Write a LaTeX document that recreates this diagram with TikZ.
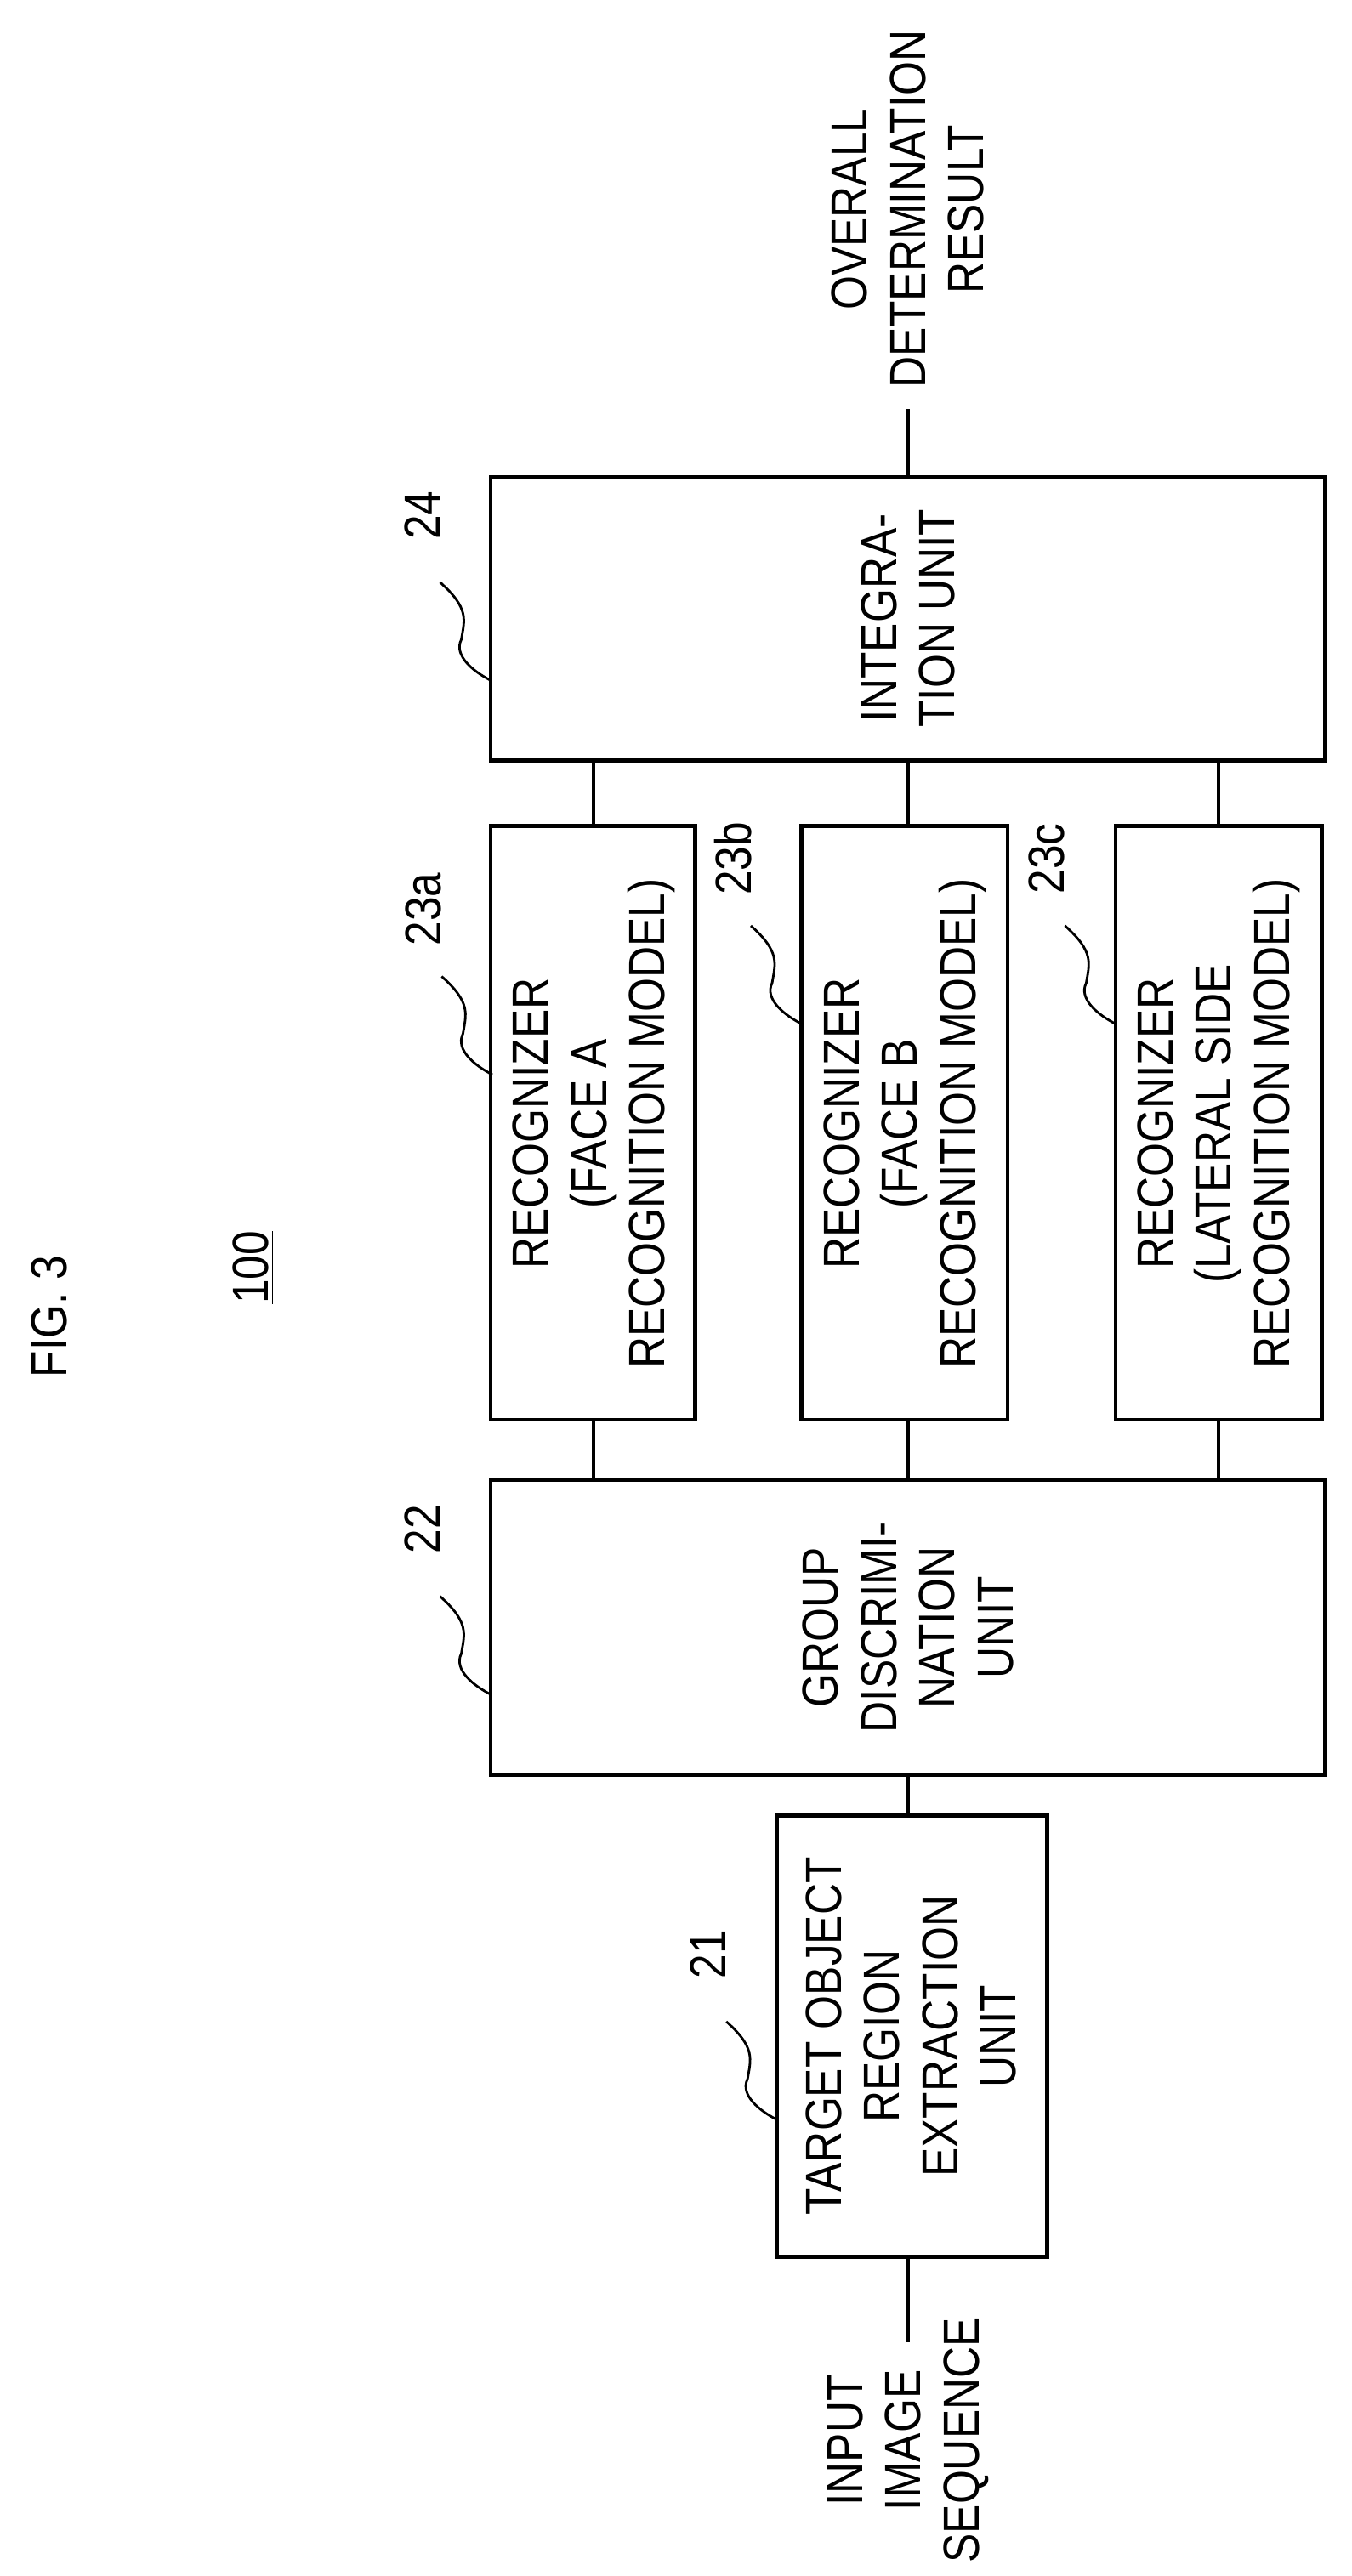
\documentclass[tikz,border=0pt]{standalone}
\usepackage{fontspec}
\setmainfont{Liberation Sans}[FakeStretch=0.86]
\begin{document}
\begin{tikzpicture}[x=0.01924cm,y=-0.01924cm,
  box/.style={draw,line width=1.3pt},
  txt/.style={rotate=90,align=center,font=\fontsize{17}{19.5}\selectfont},
  lbl/.style={rotate=90,font=\fontsize{17}{19.5}\selectfont},
  ln/.style={line width=1.1pt},
  ld/.style={line width=0.8pt}]
\useasboundingbox (0,0) rectangle (826,1575);
\node[txt] (fig) at (30,805) {FIG. 3};
\node[txt] (num) at (155,775) {\underline{100}};
% boxes
\draw[box] (475,1110) rectangle (640,1380);
\draw[box] (300,905) rectangle (810,1085);
\draw[box] (300,505) rectangle (425,868);
\draw[box] (490,505) rectangle (616,868);
\draw[box] (682,505) rectangle (808,868);
\draw[box] (300,292) rectangle (810,465);
\node[txt] (t21) at (557,1245) {TARGET OBJECT\\REGION\\EXTRACTION\\UNIT};
\node[txt] (t22) at (555,995) {GROUP\\DISCRIMI-\\NATION\\UNIT};
\node[txt] (t23a) at (363,687) {RECOGNIZER\\(FACE A\\RECOGNITION MODEL)};
\node[txt] (t23b) at (553,687) {RECOGNIZER\\(FACE B\\RECOGNITION MODEL)};
\node[txt] (t23c) at (745,687) {RECOGNIZER\\(LATERAL SIDE\\RECOGNITION MODEL)};
\node[txt] (t24) at (555,378) {INTEGRA-\\TION UNIT};
\node[txt] (in) at (555,1492) {INPUT\\IMAGE\\SEQUENCE};
\node[txt] (out) at (555,128) {OVERALL\\DETERMINATION\\RESULT};
% connectors
\coordinate (i1) at (555,1380); \coordinate (i0) at (555,1432);
\draw[ln] (i0) -- (i1);
\coordinate (a1) at (555,1110); \coordinate (a2) at (555,1085);
\draw[ln] (a1) -- (a2);
\foreach \x/\n in {363/a,555/b,745/c}{
  \coordinate (p\n1) at (\x,905); \coordinate (p\n2) at (\x,868);
  \coordinate (q\n1) at (\x,505); \coordinate (q\n2) at (\x,465);
  \draw[ln] (p\n1) -- (p\n2);
  \draw[ln] (q\n1) -- (q\n2);
}
\coordinate (o1) at (555,292); \coordinate (o0) at (555,250);
\draw[ln] (o1) -- (o0);
% labels and leaders
\foreach \sx/\sy/\t in {444/1236/21, 269/976/22, 270/597/23a, 459/566/23b, 651/566/23c, 269/356/24}{
  \node[lbl] (L\t) at (\sx-11,\sy-41) {\t};
  \coordinate (s\t) at (\sx,\sy);
  \draw[ld] (s\t) .. controls +(18,16) and +(2,-12) .. ++(13,35) .. controls +(-5,10) and +(-10,-5) .. ++(18,25);
}
\end{tikzpicture}
\end{document}
